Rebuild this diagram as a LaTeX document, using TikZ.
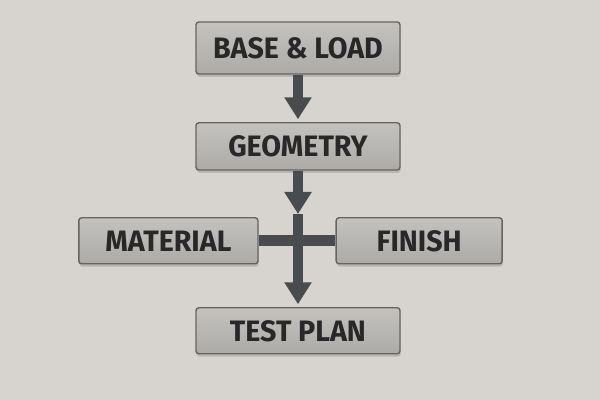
\documentclass[tikz,border=0pt]{standalone}
\usepackage{fontspec}
\setmainfont{Fira Sans}[FakeStretch=0.97]
\usetikzlibrary{arrows.meta}
\usetikzlibrary{shadows}
\definecolor{wall}{HTML}{D7D3CE}
\definecolor{plate}{HTML}{ADABA7}
\definecolor{platetop}{HTML}{C4C2BE}
\definecolor{rim}{HTML}{666461}
\definecolor{ink}{HTML}{282828}
\definecolor{bar}{HTML}{484C4F}

\begin{document}
\begin{tikzpicture}
  \fill [wall] (0,0) rectangle (15,10);
  \useasboundingbox (0,0) rectangle (15,10);

  \begin{scope}[every node/.style={rectangle,draw=rim,line width=1pt,rounded corners=2pt,
      top color=platetop,bottom color=plate,drop shadow={shadow xshift=0.5pt,shadow yshift=-2pt,opacity=0.35},
      text=ink,font=\bfseries\fontsize{21}{23}\selectfont,inner sep=0pt,minimum height=1.15cm}]
    \node (base) [minimum width=5.1cm,minimum height=1.3cm] at (7.45,8.8) {BASE \& LOAD};
    \node (geom) [minimum width=5.1cm,minimum height=1.18cm] at (7.45,6.34) {GEOMETRY};
    \node (mat) [minimum width=4.48cm] at (4.21,3.98) {MATERIAL};
    \node (fin) [minimum width=4.15cm] at (10.48,3.98) {FINISH};
    \node (test) [minimum width=5.1cm] at (7.45,1.73) {TEST PLAN};
  \end{scope}

  \coordinate (split) at (7.45,4.65);

  \begin{scope}[bar, line width=0.27cm, -{Triangle[width=0.65cm,length=0.55cm]}]
    \draw (base) -- ([yshift=2pt]geom.north);
    \draw (geom) -- (split);
    \draw [-] (mat) -- (fin);
    \draw (split) -- ([yshift=2pt]test.north);
  \end{scope}
\end{tikzpicture}
\end{document}
